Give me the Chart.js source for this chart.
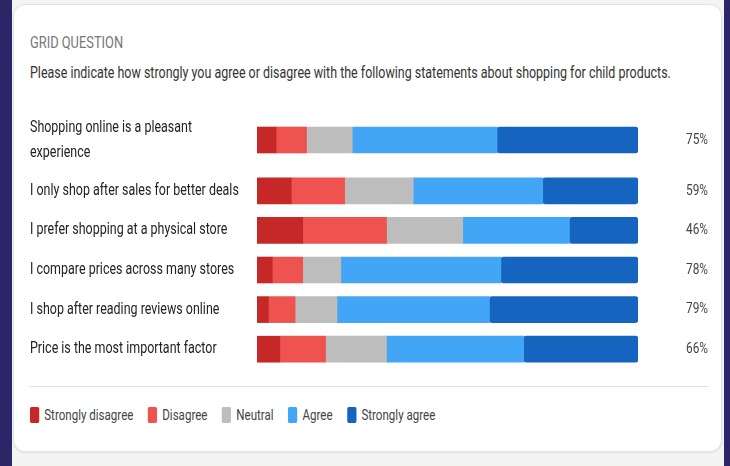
<!DOCTYPE html>
<html>
<head>
<meta charset="utf-8">
<script src="https://cdn.jsdelivr.net/npm/chart.js@4.4.1/dist/chart.umd.min.js"></script>
<style>
  html, body { margin: 0; padding: 0; }
  body {
    width: 730px; height: 466px; position: relative; overflow: hidden;
    background: #f4f4f2;
    font-family: Roboto, 'Liberation Sans', sans-serif;
  }
  .frame { position: absolute; top: 0; height: 466px; background: #2b2668; }
  .card {
    position: absolute; left: 13px; top: 4px; width: 709px; height: 448px;
    box-sizing: border-box; background: #fff; border: 1px solid #e2e2e2;
    border-radius: 12px; box-shadow: 0 1px 2px rgba(0,0,0,0.08);
  }
  .narrow { position: absolute; left: 30px; white-space: nowrap; transform: scaleX(0.77); transform-origin: 0 50%; }
  .eyebrow { top: 33px; font-size: 16.7px; color: #777; }
  .question { top: 63px; font-size: 16.2px; color: #333; }
  .rule { position: absolute; left: 30px; top: 386px; width: 678px; height: 1px; background: #e0e0e0; }
  #legend { top: 406px; display: flex; font-size: 15px; color: #444; }
  #legend .item { display: flex; align-items: center; margin-right: 19px; }
  #legend i { display: inline-block; width: 12px; height: 16px; border-radius: 2px; margin-right: 6.5px; }
  .wrap { position: absolute; left: 30px; width: 690px; }
</style>
</head>
<body>
<div class="frame" style="left:0;width:12px"></div>
<div class="frame" style="left:724px;width:6px"></div>
<div class="card"></div>
<div class="narrow eyebrow">GRID QUESTION</div>
<div class="narrow question">Please indicate how strongly you agree or disagree with the following statements about shopping for child products.</div>

<div class="wrap" style="top:115px;height:50px"><canvas id="top" width="690" height="50"></canvas></div>
<div class="wrap" style="top:171px;height:198px"><canvas id="rest" width="690" height="198"></canvas></div>

<div class="rule"></div>
<div id="legend" class="narrow"></div>

<script>
const statements = [
  ["Shopping online is a pleasant", "experience"],
  "I only shop after sales for better deals",
  "I prefer shopping at a physical store",
  "I compare prices across many stores",
  "I shop after reading reviews online",
  "Price is the most important factor"
];
const levels = ["Strongly disagree", "Disagree", "Neutral", "Agree", "Strongly agree"];
const colors = ["#c62828", "#ef5350", "#bdbdbd", "#42a5f5", "#1565c0"];

const stronglyDisagree = [5, 9, 12, 4, 3, 6];
const disagree         = [8, 14, 22, 8, 7, 12];
const neutral          = [12, 18, 20, 10, 11, 16];
const agree            = [38, 34, 28, 42, 40, 36];
const stronglyAgree    = [37, 25, 18, 36, 39, 30];
const agreeLabels = ["75%", "59%", "46%", "78%", "79%", "66%"];

const series = [stronglyDisagree, disagree, neutral, agree, stronglyAgree];
const FONT = "Roboto, 'Liberation Sans', sans-serif";
const HS = 0.77; // the source font is a condensed one

function narrowText(ctx, text, x, y) {
  ctx.save();
  ctx.translate(x, y);
  ctx.scale(HS, 1);
  ctx.fillText(text, 0, 0);
  ctx.restore();
}

// row labels on the left and the agree share on the right
const rowText = {
  id: "rowText",
  afterDatasetsDraw(chart, args, opts) {
    const ctx = chart.ctx;
    const y = chart.scales.y;
    ctx.save();
    ctx.textBaseline = "middle";
    ctx.textAlign = "left";
    ctx.font = "16.2px " + FONT;
    ctx.fillStyle = "#222";
    chart.data.labels.forEach((lab, i) => {
      const lines = [].concat(lab);
      const cy = y.getPixelForValue(i);
      lines.forEach((ln, j) => {
        narrowText(ctx, ln, 0, cy + (j - (lines.length - 1) / 2) * 25);
      });
    });
    ctx.font = "15.4px " + FONT;
    ctx.fillStyle = "#444";
    ctx.textAlign = "right";
    opts.labels.forEach((t, i) => {
      narrowText(ctx, t, chart.width - 12, y.getPixelForValue(i));
    });
    ctx.restore();
  }
};

function makeChart(id, from, to) {
  return new Chart(document.getElementById(id), {
    type: "bar",
    data: {
      labels: statements.slice(from, to),
      datasets: series.map((s, k) => ({
        label: levels[k],
        data: s.slice(from, to),
        backgroundColor: colors[k],
        borderWidth: 0,
        borderSkipped: false,
        borderRadius: 3,
        barThickness: 26
      }))
    },
    options: {
      indexAxis: "y",
      responsive: false,
      animation: false,
      layout: { padding: { left: 0, right: 82, top: 0, bottom: 0 } },
      scales: {
        x: { stacked: true, min: 0, max: 100, display: false },
        y: {
          stacked: true,
          grid: { display: false },
          border: { display: false },
          ticks: { display: false },
          afterFit(scale) {
            scale.width = 227;
            scale.paddingTop = 0;
            scale.paddingBottom = 0;
          }
        }
      },
      plugins: {
        legend: { display: false },
        tooltip: { enabled: false },
        rowText: { labels: agreeLabels.slice(from, to) }
      }
    },
    plugins: [rowText]
  });
}

makeChart("top", 0, 1);
makeChart("rest", 1, 6);

const legend = document.getElementById("legend");
levels.forEach((name, k) => {
  const item = document.createElement("span");
  item.className = "item";
  item.innerHTML = '<i style="background:' + colors[k] + '"></i>' + name;
  legend.appendChild(item);
});
</script>
</body>
</html>
